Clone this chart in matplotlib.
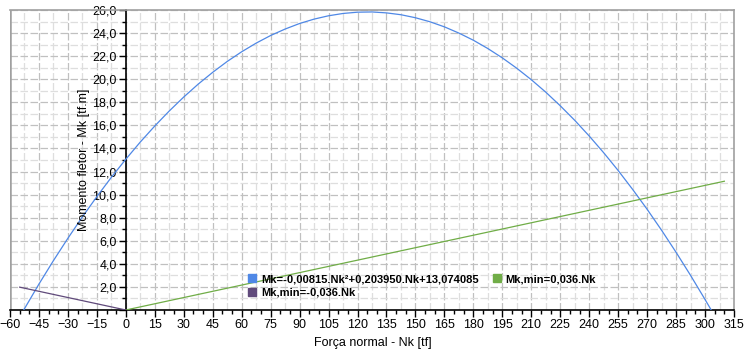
import numpy as np
import matplotlib.pyplot as plt
from matplotlib.ticker import MultipleLocator, FuncFormatter
from matplotlib.lines import Line2D

plt.rcParams['font.family'] = ['Liberation Sans', 'DejaVu Sans']

# === Daten ===
nk_curve = [-52.9, -45, -37.5, -30, -22.5, -15, -7.5, 0, 7.5, 15, 22.5, 30,
            37.5, 45, 52.5, 60, 67.5, 75, 82.5, 90, 97.5, 105, 112.5, 120,
            127.5, 135, 142.5, 150, 157.5, 165, 172.5, 180, 187.5, 195,
            202.5, 210, 217.5, 225, 232.5, 240, 247.5, 255, 262.5, 270,
            277.5, 285, 292.5, 300, 303.2]
mk_curve = [0.0, 2.25, 4.28, 6.22, 8.07, 9.83, 11.50, 13.07, 14.56, 15.95,
            17.25, 18.46, 19.58, 20.60, 21.54, 22.38, 23.13, 23.79, 24.35,
            24.83, 25.21, 25.50, 25.70, 25.81, 25.83, 25.75, 25.59, 25.33,
            24.98, 24.54, 24.00, 23.38, 22.66, 21.85, 20.95, 19.96, 18.88,
            17.70, 16.44, 15.08, 13.63, 12.09, 10.45, 8.73, 6.91, 5.00, 3.00,
            0.91, 0.0]
nk_pos = [0, 310]
mk_pos = [0, 11.16]
nk_neg = [-55, 0]
mk_neg = [1.98, 0]

labels = ["Mk=-0,00815.Nk²+0,203950.Nk+13,074085",
          "Mk,min=0,036.Nk",
          "Mk,min=-0,036.Nk"]
c_blue = '#4f88e6'
c_green = '#70ad47'
c_purple = '#604a7b'

W, H = 755, 360
fig = plt.figure(figsize=(W / 100, H / 100), dpi=100)
ax = fig.add_axes([10 / W, 50 / H, 724 / W, 300 / H])

ax.set_xlim(-60, 315)
ax.set_ylim(0, 26)

# Gitter: Haupt- und Nebenlinien
for x in np.arange(-60, 316, 7.5):
    major = (x % 15 == 0)
    ax.axvline(x, color='#c0c0c0' if major else '#dedede', lw=0.9,
               ls=(0, (6, 2)), zorder=0)
for y in np.arange(0, 27, 1):
    major = (y % 2 == 0)
    ax.axhline(y, color='#c0c0c0' if major else '#dedede', lw=0.9,
               ls=(0, (6, 2)), zorder=0)

ax.plot(nk_curve, mk_curve, color=c_blue, lw=0.9, zorder=3)
ax.plot(nk_pos, mk_pos, color=c_green, lw=0.9, zorder=3)
ax.plot(nk_neg, mk_neg, color=c_purple, lw=0.9, zorder=3)

# Achsen: y-Achse bei Nk = 0
ax.spines['left'].set_position(('data', 0))
ax.spines['left'].set_color('black')
ax.spines['bottom'].set_color('black')
ax.spines['top'].set_color('#a0a0a0')
ax.spines['right'].set_color('#a0a0a0')
for s in ax.spines.values():
    s.set_linewidth(1.2)
ax.axvline(-60, color='#a0a0a0', lw=1.8, zorder=1)

ax.xaxis.set_major_locator(MultipleLocator(15))
ax.xaxis.set_minor_locator(MultipleLocator(5))
ax.yaxis.set_major_locator(MultipleLocator(2))
ax.yaxis.set_minor_locator(MultipleLocator(1))
ax.yaxis.set_major_formatter(FuncFormatter(
    lambda v, p: '' if v == 0 else f"{v:.1f}".replace('.', ',')))
ax.tick_params(axis='both', which='major', length=5, width=1, labelsize=9,
               colors='black', pad=1.5)
ax.tick_params(axis='both', which='minor', length=3, width=1)

fig.text(84.5 / W, 1 - 160 / H, "Momento fletor - Mk [tf.m]", rotation=90,
         ha='center', va='center', fontsize=9)
fig.text(373 / W, 1 - 343 / H, "Força normal - Nk [tf]",
         ha='center', va='center', fontsize=9)

handles = [Line2D([], [], ls='none', marker='s', ms=5.5, color=c)
           for c in (c_blue, c_purple, c_green)]
leg = ax.legend(handles, [labels[0], labels[2], labels[1]], ncol=2,
                loc='upper left', bbox_to_anchor=(248 / W, 1 - 274 / H),
                bbox_transform=fig.transFigure, frameon=False,
                prop={'size': 8, 'weight': 'bold'}, borderpad=0,
                handlelength=0.8, handletextpad=0.4, columnspacing=1.2,
                labelspacing=0.35, borderaxespad=0)

fig.savefig('out.png', dpi=100)
